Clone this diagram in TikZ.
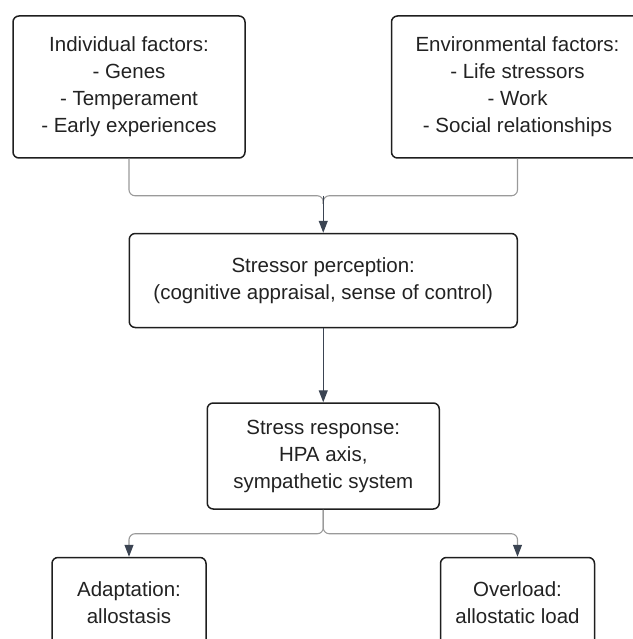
\documentclass[tikz,border=0pt]{standalone}
\usepackage{fontspec}
\setmainfont{Liberation Sans}
\usetikzlibrary{arrows.meta,positioning,calc}
\definecolor{boxline}{HTML}{1E1E1E}
\definecolor{linkgray}{HTML}{9A9A9A}
\definecolor{tipslate}{HTML}{3B4452}
\definecolor{textdark}{HTML}{222222}

\begin{document}
\begin{tikzpicture}[x=1pt, y=1pt,
    box/.style={draw=boxline, line width=1.5pt, rounded corners=6pt, align=center, text=textdark, inner sep=0pt, font=\fontsize{20.5}{27}\selectfont},
    branch/.style={draw=linkgray, line width=1.1pt, rounded corners=6pt},
    tiparrow/.style={-{Triangle[length=12pt,width=9pt,color=tipslate]}},
    arrow/.style={-{Triangle[length=12pt,width=9pt]}, line width=1.1pt, #1},
    arrow/.default={tipslate}
]
\useasboundingbox (0,0) rectangle (632,-639);

% Influences
\node[box, minimum width=232pt, minimum height=142pt] (ind) at (129,-87) {Individual factors:\\- Genes\\- Temperament\\- Early experiences};
\node[box, minimum width=252pt, minimum height=142pt, right=145pt of ind] (env) {Environmental factors:\\- Life stressors\\- Work\\- Social relationships};

% Perception and response
\coordinate (topmid) at ($(ind.south)!0.5!(env.south)$);
\coordinate (merge) at ($(topmid)+(0,-37)$);
\node[box, minimum width=388pt, minimum height=94pt, below=74pt of topmid] (perc) {Stressor perception:\\(cognitive appraisal, sense of control)};
\node[box, minimum width=232pt, minimum height=106pt, below=74pt of perc] (resp) {Stress response:\\HPA axis,\\sympathetic system};

% Outcomes
\coordinate (lsplit) at (resp.south -| ind.south);
\coordinate (rsplit) at (resp.south -| env.south);
\node[box, minimum width=154pt, minimum height=90pt, below=47pt of lsplit] (adapt) {Adaptation:\\allostasis};
\node[box, minimum width=154pt, minimum height=90pt, below=47pt of rsplit] (over) {Overload:\\allostatic load};

% Connectors
\draw[branch] (ind.south) |- (merge) -- ++(0,-8);
\draw[branch] (env.south) |- (merge) -- ++(0,-8);
\draw[arrow] (merge) -- (perc.north);
\draw[arrow] (perc) -- (resp);
\draw[branch, tiparrow] (resp.south) -- ++(0,-24) -| (adapt.north);
\draw[branch, tiparrow] (resp.south) -- ++(0,-24) -| (over.north);

\end{tikzpicture}
\end{document}
